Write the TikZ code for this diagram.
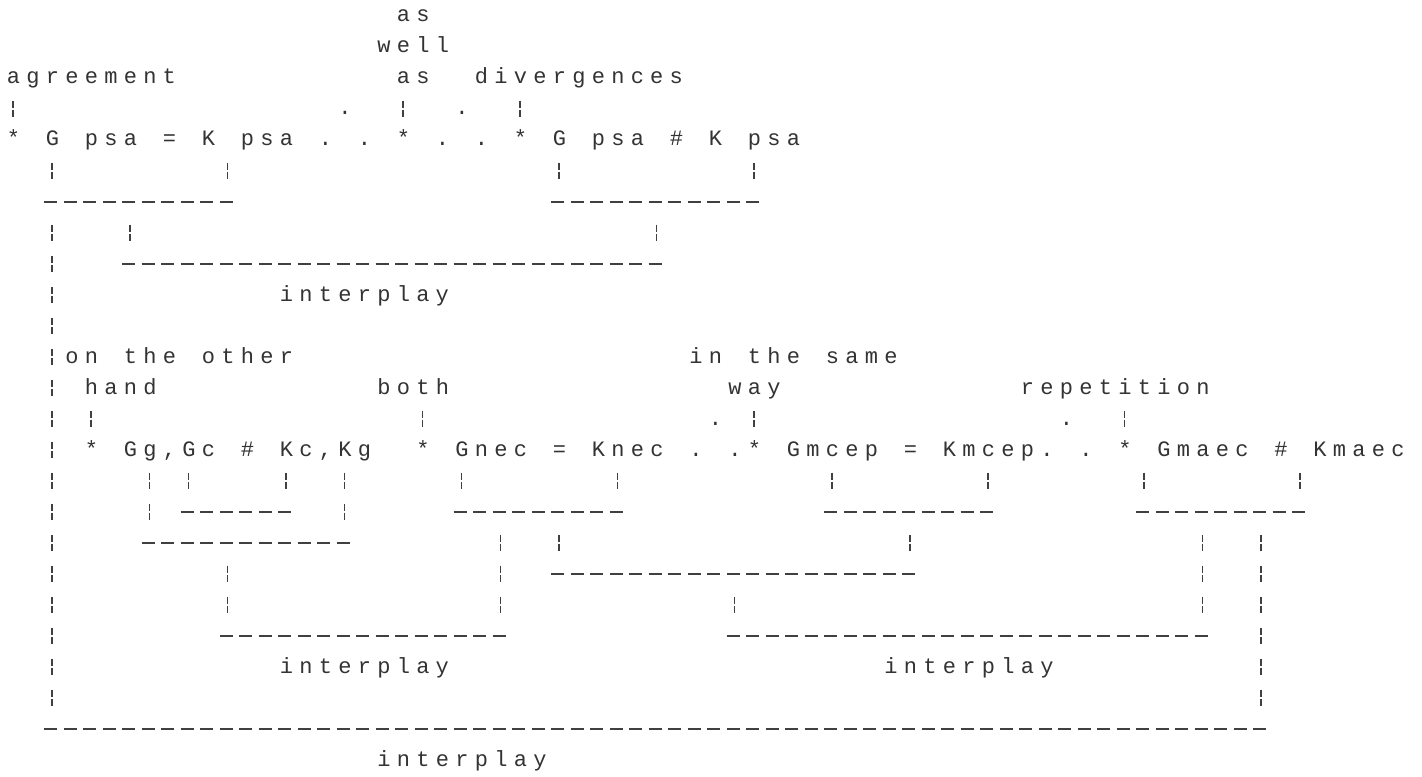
\documentclass[tikz,border=0pt]{standalone}
\usepackage{fontspec}
\newfontfamily\dotmono[LetterSpace=28.6]{Liberation Mono}
\begin{document}
\begin{tikzpicture}[x=9.75pt,y=-15.5pt,
        txt/.style={anchor=base west,inner sep=0pt,xshift=-3.3pt,yshift=-3pt,
            font=\dotmono\fontsize{11}{11}\selectfont,text=black!80},
        bar/.style={draw=black!75,line width=0.6pt,
            dash pattern=on 3.5pt off 1pt on 3.5pt off 7.5pt},
        rule/.style={draw=black!75,line width=0.6pt,dash pattern=on 6.5pt off 3.25pt}]
    \useasboundingbox (-0.667,0.484) rectangle (72.256,25.548);
    \node[txt] (as1) at (20,1) {as};
    \node[txt] (well) at (19,2) {well};
    \node[txt] (agree) at (0,3) {agreement};
    \node[txt] (as2) at (20,3) {as};
    \node[txt] (diverg) at (24,3) {divergences};
    \node[txt] (dot1) at (17,4) {.};
    \node[txt] (dot2) at (23,4) {.};
    \foreach \c/\t in {0/*,2/G,4/psa,8/=,10/K,12/psa,16/.,18/.,20/*,22/.,24/.,
            26/*,28/G,30/psa,34/\#,36/K,38/psa}
        \node[txt] (m\c) at (\c,5) {\t};
    \node[txt] (ip1) at (14,10) {interplay};
    \foreach \c/\t in {3/on,6/the,10/other,35/in,38/the,42/same}
        \node[txt] (w\c) at (\c,12) {\t};
    \node[txt] (hand) at (4,13) {hand};
    \node[txt] (both) at (19,13) {both};
    \node[txt] (way) at (37,13) {way};
    \node[txt] (repet) at (52,13) {repetition};
    \node[txt] (dot3) at (36,14) {.};
    \node[txt] (dot4) at (54,14) {.};
    \foreach \c/\t in {4/*,6/{Gg,Gc},12/\#,14/{Kc,Kg},21/*,23/Gnec,28/=,30/Knec,
            35/.,37/.,38/*,40/Gmcep,46/=,48/Kmcep.,55/.,57/*,59/Gmaec,65/\#,67/Kmaec}
        \node[txt] (n\c) at (\c,15) {\t};
    \node[txt] (ip2) at (14,22) {interplay};
    \node[txt] (ip3) at (45,22) {interplay};
    \node[txt] (ip4) at (19,25) {interplay};

    \foreach \c/\a/\b in {0/4/4,20/4/4,26/4/4,2/6/6,11/6/6,28/6/6,38/6/6,
            2/8/23,6/8/8,33/8/8,4/14/14,21/14/14,38/14/14,57/14/14,
            7/16/17,9/16/16,14/16/16,17/16/17,23/16/16,31/16/16,42/16/16,50/16/16,
            58/16/16,66/16/16,25/18/20,28/18/18,46/18/18,61/18/20,64/18/23,
            11/19/20,37/20/20}
        \draw[bar] (\c,\a-0.27) -- (\c,\b+0.27);

    \foreach \a/\b/\r [count=\i] in {2/11/7,28/38/7,6/33/9,9/14/17,23/31/17,42/50/17,
            58/66/17,7/17/18,28/46/19,11/25/21,37/61/21,2/64/24} {
        \coordinate (h\i l) at (\a-0.4,\r);
        \coordinate (h\i r) at (\b+0.4,\r);
        \draw[rule] (h\i l) -- (h\i r);
    }
\end{tikzpicture}
\end{document}
